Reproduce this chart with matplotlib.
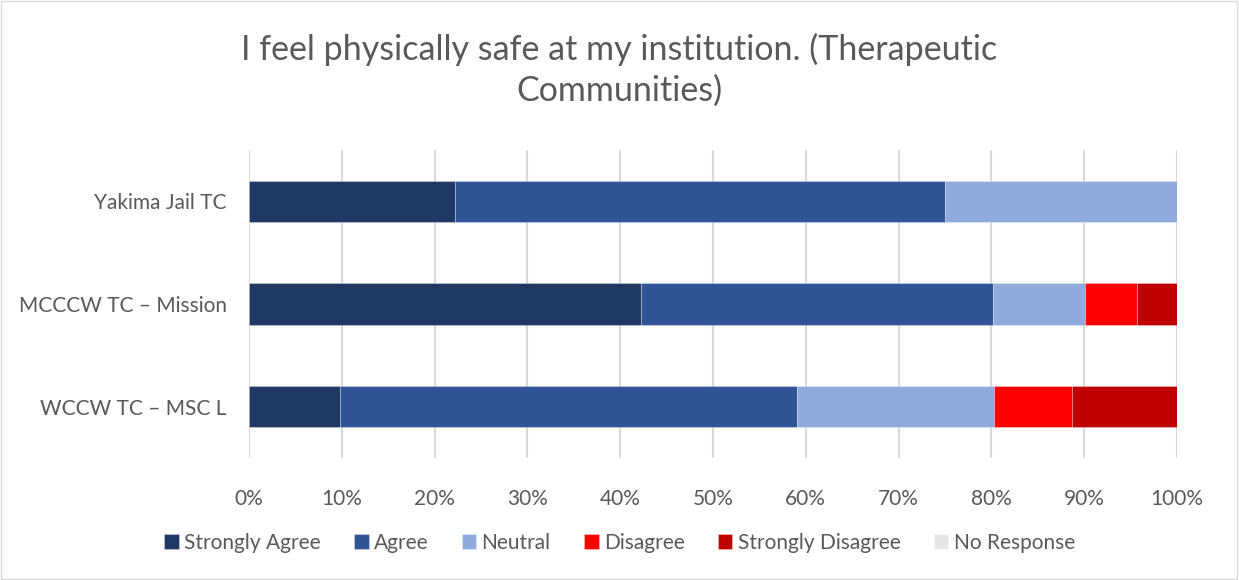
import matplotlib
matplotlib.use("Agg")
import matplotlib.pyplot as plt
from matplotlib.patches import Rectangle
from matplotlib.ticker import PercentFormatter, MultipleLocator

plt.rcParams['font.family'] = ['Lato', 'DejaVu Sans']

categories = ["WCCW TC – MSC L", "MCCCW TC – Mission", "Yakima Jail TC"]
series_names = ["Strongly Agree", "Agree", "Neutral", "Disagree", "Strongly Disagree", "No Response"]
strongly_agree = [9.8, 42.2, 22.2]
agree = [49.3, 38.0, 52.8]
neutral = [21.2, 9.9, 25.0]
disagree = [8.4, 5.6, 0.0]
strongly_disagree = [11.3, 4.3, 0.0]
no_response = [0.0, 0.0, 0.0]
colors = ["#1F3864", "#2F5597", "#8FAADC", "#FF0000", "#C00000", "#E7E6E6"]
title = "I feel physically safe at my institution. (Therapeutic\nCommunities)"

series = [strongly_agree, agree, neutral, disagree, strongly_disagree, no_response]

fig = plt.figure(figsize=(12.39, 5.8), dpi=100)
ax = fig.add_axes([249/1239, 1-458/580, (1177-249)/1239, 308/580])

left = [0.0] * len(categories)
for name, vals, c in zip(series_names, series, colors):
    ax.barh(range(len(categories)), vals, left=left, height=0.4, color=c,
            edgecolor=(1, 1, 1, 0.35), linewidth=0.6, label=name, zorder=3)
    left = [l + v for l, v in zip(left, vals)]

ax.set_xlim(0, 100)
ax.set_ylim(-0.5, 2.5)
ax.xaxis.set_major_locator(MultipleLocator(10))
ax.xaxis.set_major_formatter(PercentFormatter(decimals=0))
ax.set_yticks(range(len(categories)))
ax.set_yticklabels(categories)
ax.grid(axis='x', color='#D9D9D9', linewidth=1.5, zorder=0)
for s in ax.spines.values():
    s.set_visible(False)
ax.tick_params(axis='both', length=0, labelsize=15, colors='#595959')
ax.tick_params(axis='x', pad=22)
ax.tick_params(axis='y', pad=16)

fig.text(0.5, 1-70/580, title, ha='center', va='center', fontsize=24.5,
         color='#595959', linespacing=1.3)

handles, labels = ax.get_legend_handles_labels()
fig.legend(handles, labels, loc='center', bbox_to_anchor=(0.5, 1-543/580), ncol=6,
           frameon=False, fontsize=15, labelcolor='#595959', handlelength=0.7,
           handleheight=0.7, handletextpad=0.25, columnspacing=1.6)

fig.patches.append(Rectangle((0.001, 0.001), 0.997, 0.997, transform=fig.transFigure,
                             fill=False, edgecolor='#D9D9D9', linewidth=1))

fig.savefig("out.png", dpi=100)
